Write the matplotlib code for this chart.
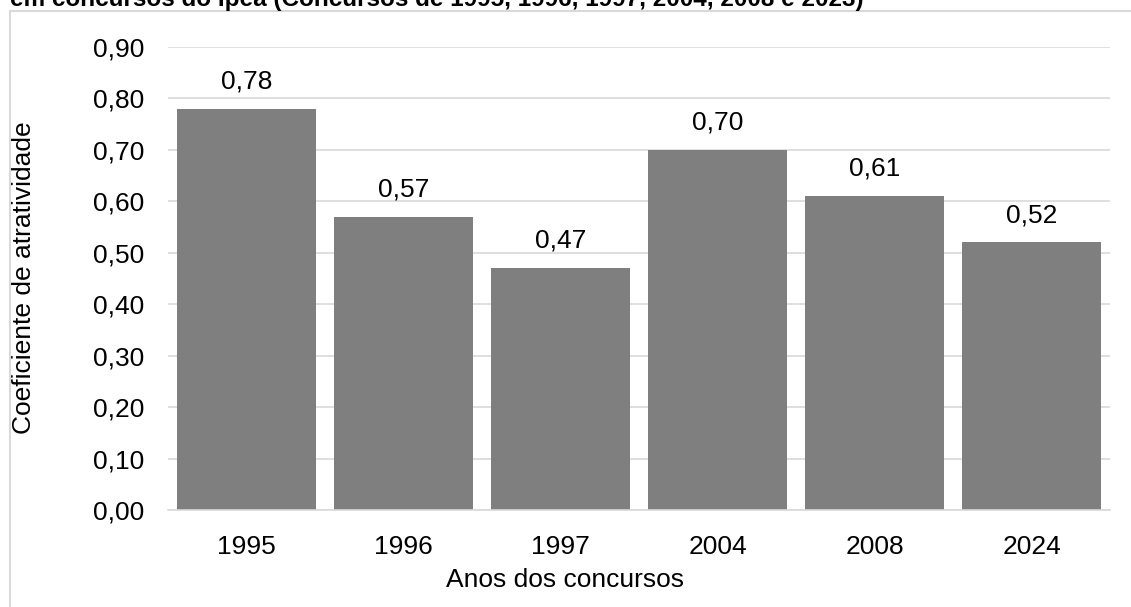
import matplotlib.pyplot as plt
from matplotlib.lines import Line2D

anos = ['1995', '1996', '1997', '2004', '2008', '2024']
coeficientes = [0.78, 0.57, 0.47, 0.70, 0.61, 0.52]
yticks = [0.0, 0.1, 0.2, 0.3, 0.4, 0.5, 0.6, 0.7, 0.8, 0.9]

plt.rcParams['font.family'] = ['Liberation Sans', 'DejaVu Sans']

W, H = 1131, 607
fs = 19
fig = plt.figure(figsize=(W / 100, H / 100), dpi=100)
ax = fig.add_axes([168 / W, 1 - 510 / H, (1110 - 168) / W, (510 - 47) / H])

# titulo cortado no topo
fig.text(10 / W, 1 - 6 / H, 'em concursos do Ipea (Concursos de 1995, 1996, 1997, 2004, 2008 e 2023)',
         fontsize=17.5, fontweight='bold', va='baseline', ha='left')

# moldura
fig.add_artist(Line2D([10 / W, 10 / W], [1 - 11 / H, 0], transform=fig.transFigure, color='#d9d9d9', lw=1.5))
fig.add_artist(Line2D([10 / W, 1], [1 - 11 / H, 1 - 11 / H], transform=fig.transFigure, color='#d9d9d9', lw=1.5))

x = range(len(anos))
bars = ax.bar(x, coeficientes, width=0.88, color='#7f7f7f', zorder=2)
for b, v in zip(bars, coeficientes):
    ax.annotate(f'{v:.2f}'.replace('.', ','), (b.get_x() + b.get_width() / 2, v),
                xytext=(0, 11), textcoords='offset points', ha='center', va='bottom', fontsize=fs)

ax.set_xlim(-0.5, len(anos) - 0.5)
ax.set_ylim(0, 0.9)
ax.set_yticks(yticks)
ax.set_yticklabels([f'{t:.2f}'.replace('.', ',') for t in yticks], fontsize=fs)
ax.set_xticks(list(x))
ax.set_xticklabels(anos, fontsize=fs)
ax.yaxis.grid(True, color='#d9d9d9', lw=1.2, zorder=0)
ax.set_axisbelow(True)
for s in ['top', 'right', 'left']:
    ax.spines[s].set_visible(False)
ax.spines['bottom'].set_color('#d9d9d9')
ax.spines['bottom'].set_linewidth(1.2)
ax.tick_params(axis='y', length=0, pad=17)
ax.tick_params(axis='x', length=0, pad=18)

ax.set_xlabel('Anos dos concursos', fontsize=fs)
ax.set_ylabel('Coeficiente de atratividade', fontsize=fs)
ax.xaxis.set_label_coords(0.5, 1 - 568 / H, transform=fig.transFigure)
ax.yaxis.set_label_coords(12 / W, 1 - 278 / H, transform=fig.transFigure)
ax.yaxis.label.set_va('top')

fig.savefig('out.png', dpi=100)
